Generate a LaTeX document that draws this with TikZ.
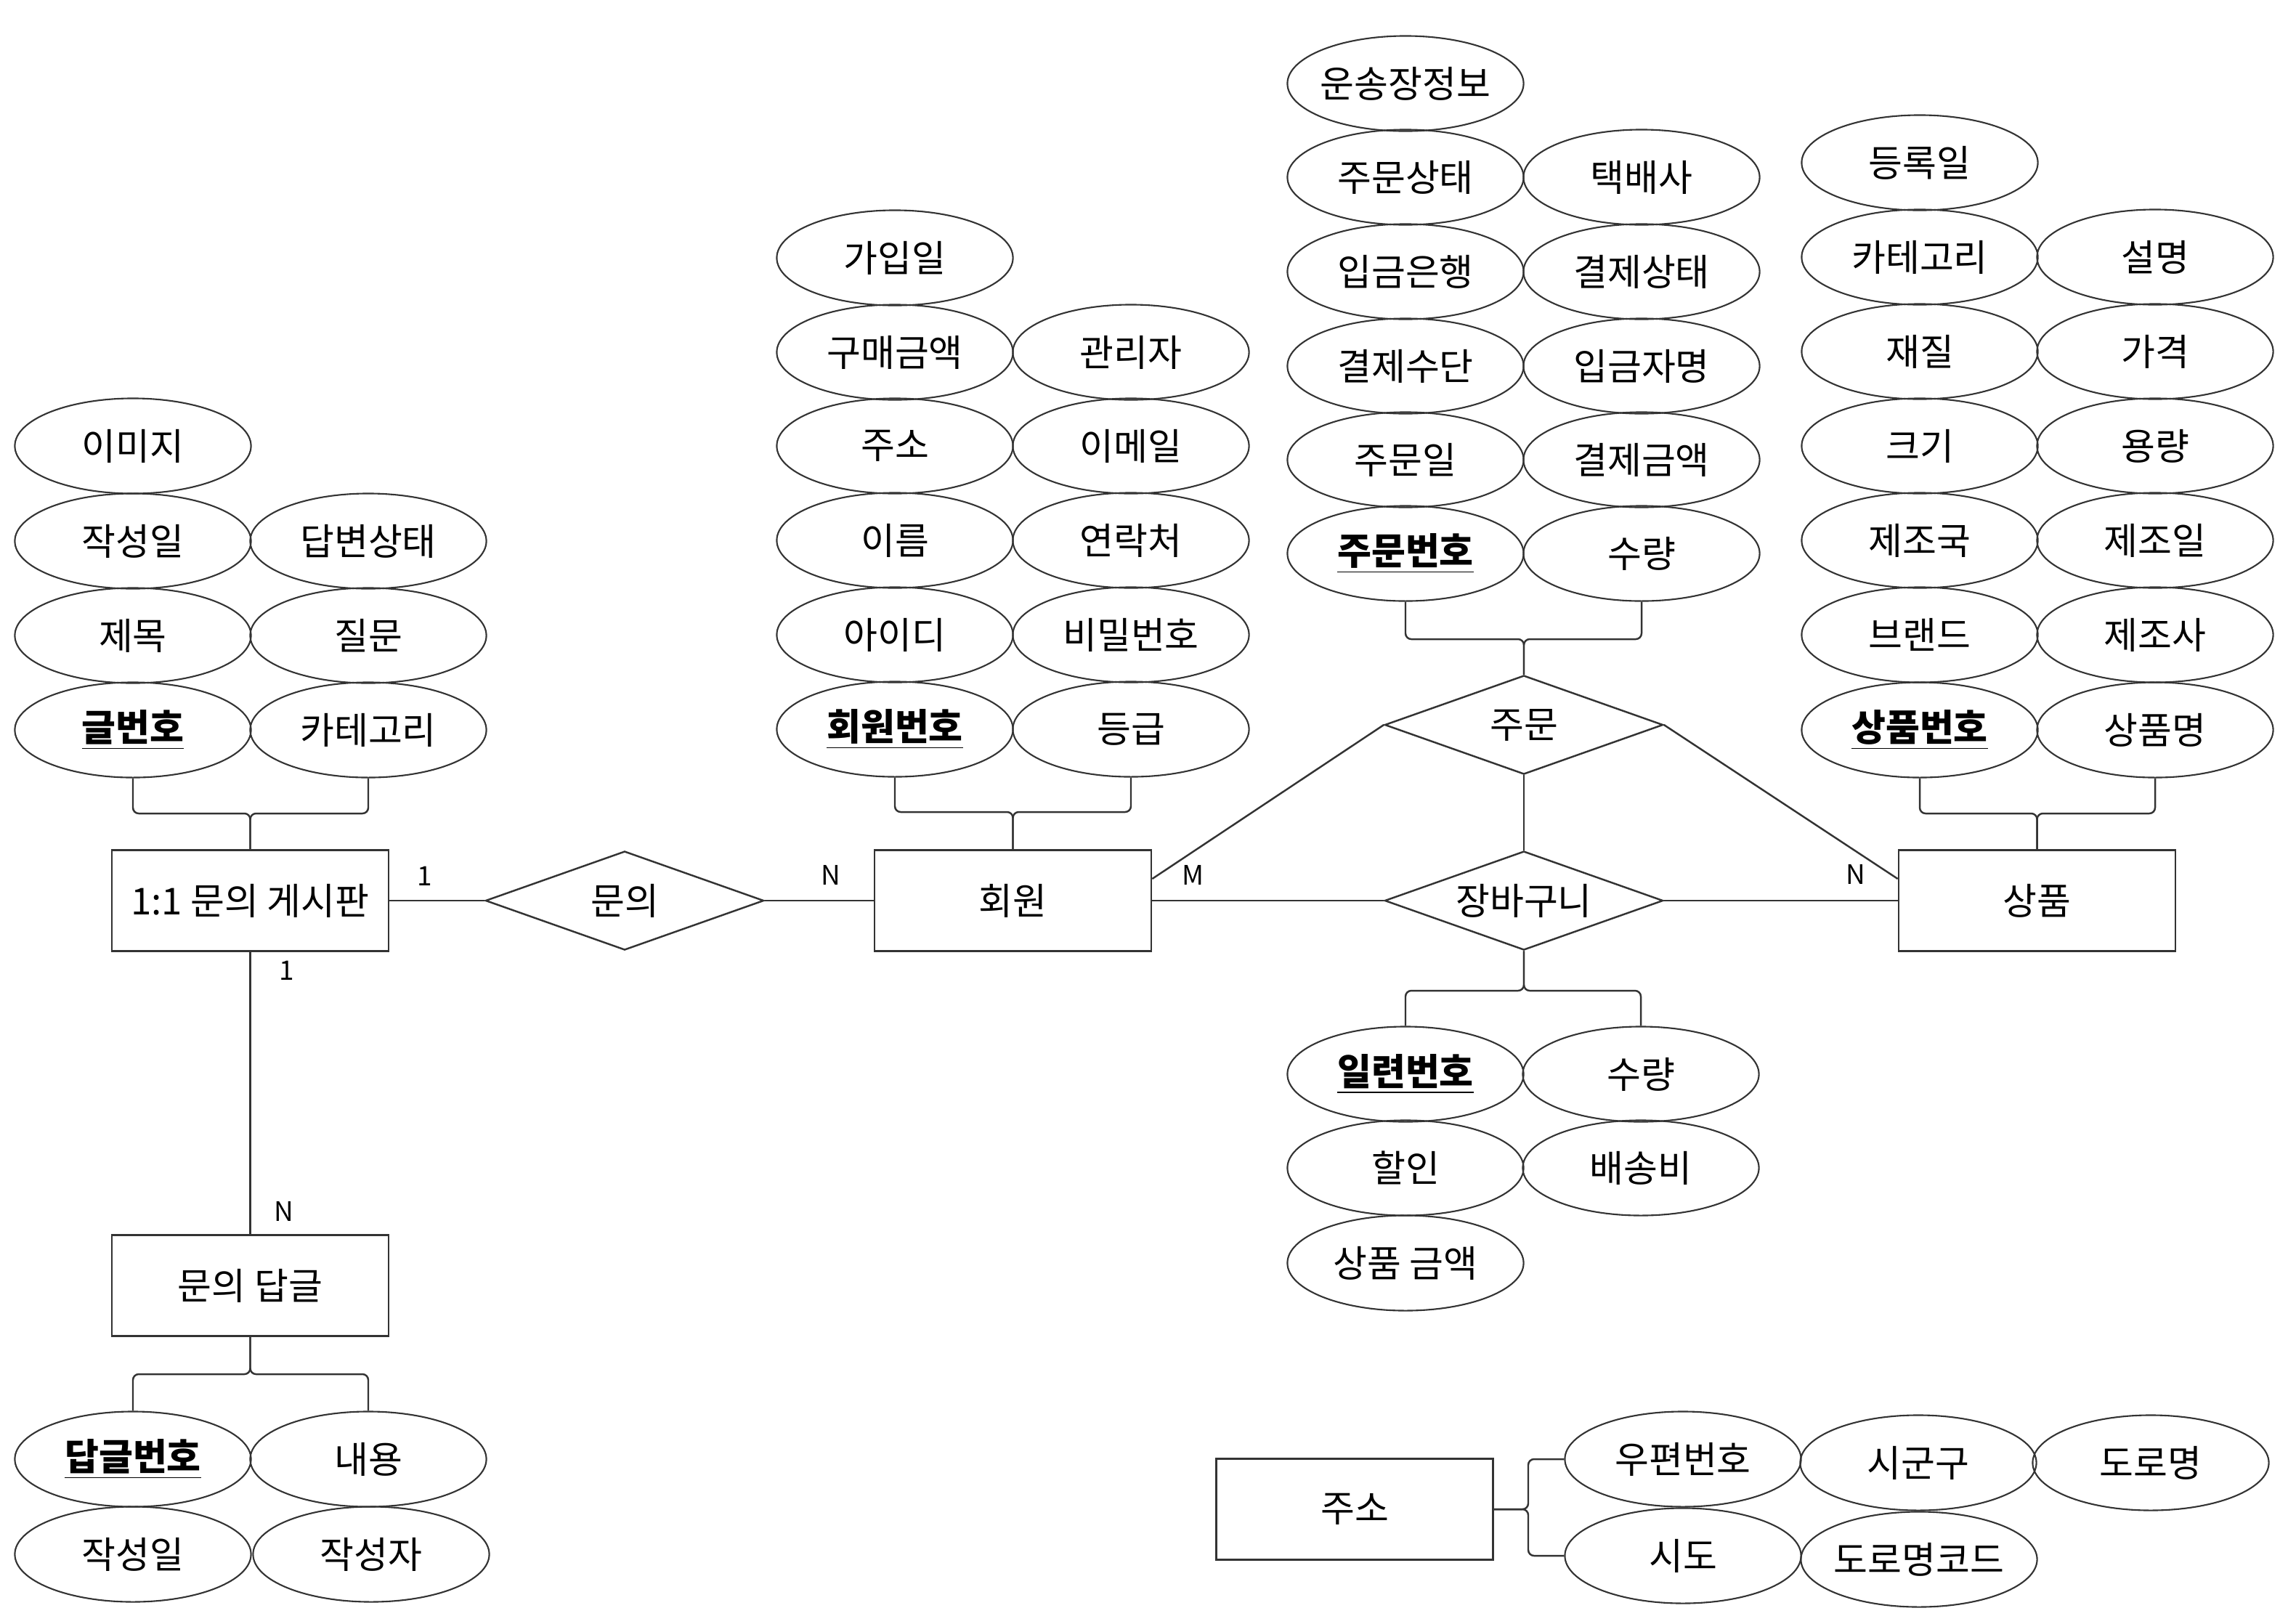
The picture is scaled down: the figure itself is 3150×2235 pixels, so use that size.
\documentclass[tikz,border=0pt]{standalone}
\usepackage{fontspec}
\setmainfont{Noto Sans CJK KR}
\usetikzlibrary{shapes.geometric,calc}
\definecolor{edge}{HTML}{333333}
\begin{document}
\begin{tikzpicture}[x=0.01cm,y=-0.01cm,
  every node/.style={font=\fontsize{14.5}{17}\selectfont, text=black},
  attr/.style={ellipse, draw=edge, line width=0.6pt, minimum width=3.25cm, minimum height=1.31cm, inner ysep=0pt, inner xsep=-0.25cm},
  keyattr/.style={attr, font=\fontsize{14.5}{17}\selectfont\bfseries},
  entity/.style={rectangle, draw=edge, line width=0.7pt, minimum width=3.81cm, minimum height=1.39cm, inner sep=0pt},
  relation/.style={diamond, draw=edge, line width=0.7pt, minimum width=3.83cm, minimum height=1.36cm, inner sep=0pt, aspect=3},
  link/.style={draw=edge, line width=0.7pt},
  bracket/.style={link, rounded corners=0.08cm},
  card/.style={font=\fontsize{10.5}{12}\selectfont}
]
\useasboundingbox (0,0) rectangle (3150,2235);

% entities and relationships
\node[entity] (board) at (344.5,1240) {1:1 문의 게시판};
\node[relation] (ask) at (860,1240) {문의};
\node[entity] (member) at (1394.5,1240) {회원};
\node[relation] (order) at (2098,998) {주문};
\node[relation] (cart) at (2098,1240) {장바구니};
\node[entity] (product) at (2804.5,1240) {상품};
\node[entity] (reply) at (344.5,1770) {문의 답글};
\node[entity] (addr) at (1865,2078) {주소};

% board attributes
\node[attr] (bimg) at (183,614) {이미지};
\node[attr] (bdate) at (183,745) {작성일};
\node[attr] (bstate) at (507,745) {답변상태};
\node[attr] (btitle) at (183,875) {제목};
\node[attr] (bq) at (507,875) {질문};
\node[keyattr] (bno) at (183,1005) {\underline{글번호}};
\node[attr] (bcat) at (507,1005) {카테고리};

% member attributes
\node[attr] (mjoin) at (1232,355) {가입일};
\node[attr] (mbuy) at (1232,485) {구매금액};
\node[attr] (madmin) at (1557,485) {관리자};
\node[attr] (maddr) at (1232,614) {주소};
\node[attr] (mmail) at (1557,614) {이메일};
\node[attr] (mname) at (1232,744) {이름};
\node[attr] (mtel) at (1557,744) {연락처};
\node[attr] (mid) at (1232,874) {아이디};
\node[attr] (mpw) at (1557,874) {비밀번호};
\node[keyattr] (mno) at (1232,1004) {\underline{회원번호}};
\node[attr] (mgrade) at (1557,1004) {등급};

% order attributes
\node[attr] (oship) at (1935,115) {운송장정보};
\node[attr] (ostate) at (1935,244) {주문상태};
\node[attr] (ocourier) at (2260,244) {택배사};
\node[attr] (obank) at (1935,374) {입금은행};
\node[attr] (opaystate) at (2260,374) {결제상태};
\node[attr] (opayway) at (1935,504) {결제수단};
\node[attr] (odepositor) at (2260,504) {입금자명};
\node[attr] (odate) at (1935,633) {주문일};
\node[attr] (oamount) at (2260,633) {결제금액};
\node[keyattr] (ono) at (1935,762) {\underline{주문번호}};
\node[attr] (oqty) at (2260,762) {수량};

% product attributes
\node[attr] (preg) at (2643,224) {등록일};
\node[attr] (pcat) at (2643,354) {카테고리};
\node[attr] (pdesc) at (2967,354) {설명};
\node[attr] (pmat) at (2643,484) {재질};
\node[attr] (pprice) at (2967,484) {가격};
\node[attr] (psize) at (2643,614) {크기};
\node[attr] (pvol) at (2967,614) {용량};
\node[attr] (pcountry) at (2643,744) {제조국};
\node[attr] (pmdate) at (2967,744) {제조일};
\node[attr] (pbrand) at (2643,874) {브랜드};
\node[attr] (pmaker) at (2967,874) {제조사};
\node[keyattr] (pno) at (2643,1005) {\underline{상품번호}};
\node[attr] (pname) at (2967,1005) {상품명};

% cart attributes
\node[keyattr] (cno) at (1935,1479) {\underline{일련번호}};
\node[attr] (cqty) at (2259,1479) {수량};
\node[attr] (cdisc) at (1935,1608) {할인};
\node[attr] (cfee) at (2259,1608) {배송비};
\node[attr] (cprice) at (1935,1739) {상품 금액};

% reply attributes
\node[keyattr] (rno) at (183,2009) {\underline{답글번호}};
\node[attr] (rbody) at (507,2009) {내용};
\node[attr] (rdate) at (183,2140) {작성일};
\node[attr] (rwriter) at (511,2140) {작성자};

% address attributes
\node[attr] (azip) at (2317,2009) {우편번호};
\node[attr] (adist) at (2641,2014) {시군구};
\node[attr] (aroad) at (2961,2014) {도로명};
\node[attr] (acity) at (2317,2142) {시도};
\node[attr] (acode) at (2642,2147) {도로명코드};

% relationship lines
\draw[link] (board.east) -- (ask.west);
\draw[link] (ask.east) -- (member.west);
\draw[link] (member.east) -- (cart.west);
\draw[link] (cart.east) -- (product.west);
\draw[link] (order.south) -- (cart.north);
\draw[link] (order.west) -- ([yshift=0.3cm]member.east);
\draw[link] (order.east) -- ([yshift=0.3cm]product.west);
\draw[link] (board.south) -- (reply.north);

% attribute brackets
\coordinate (jb) at (344.5,1120);
\draw[bracket] (bno.south) |- (jb) -- (board.north);
\draw[bracket] (bcat.south) |- (jb) -- (board.north);
\coordinate (jm) at (1394.5,1118);
\draw[bracket] (mno.south) |- (jm) -- (member.north);
\draw[bracket] (mgrade.south) |- (jm) -- (member.north);
\coordinate (jo) at (2098,880);
\draw[bracket] (ono.south) |- (jo) -- (order.north);
\draw[bracket] (oqty.south) |- (jo) -- (order.north);
\coordinate (jp) at (2804.5,1120);
\draw[bracket] (pno.south) |- (jp) -- (product.north);
\draw[bracket] (pname.south) |- (jp) -- (product.north);
\coordinate (jc) at (2098,1364);
\draw[bracket] (cart.south) -- (jc) -| (cno.north);
\draw[bracket] (cart.south) -- (jc) -| (cqty.north);
\coordinate (jr) at (344.5,1892);
\draw[bracket] (reply.south) -- (jr) -| (rno.north);
\draw[bracket] (reply.south) -- (jr) -| (rbody.north);
\coordinate (ja) at (2104,2078);
\draw[bracket] (addr.east) -- (ja) |- (azip.west);
\draw[bracket] (addr.east) -- (ja) |- (acity.west);

% cardinalities
\node[card] (k1) at (585,1206) {1};
\node[card] (k2) at (1144,1205) {N};
\node[card] (k3) at (1642,1205) {M};
\node[card] (k4) at (2555,1204) {N};
\node[card] (k5) at (395,1336) {1};
\node[card] (k6) at (391,1668) {N};
\end{tikzpicture}
\end{document}
